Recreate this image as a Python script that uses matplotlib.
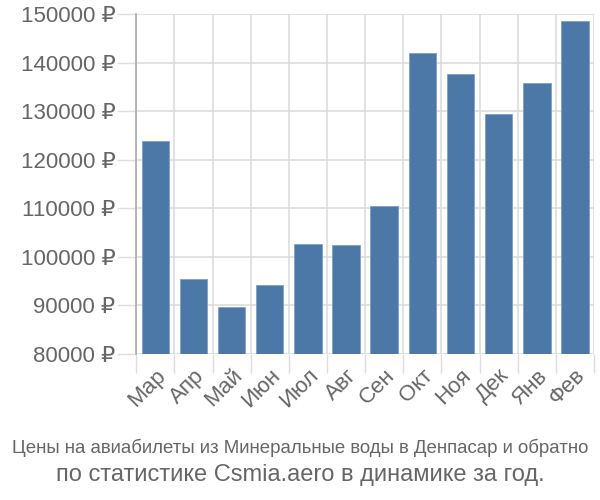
import matplotlib
matplotlib.use("Agg")
import matplotlib.pyplot as plt
import numpy as np

matplotlib.rcParams["font.family"] = ["Liberation Sans", "DejaVu Sans"]

months = ["Мар", "Апр", "Май", "Июн", "Июл", "Авг",
          "Сен", "Окт", "Ноя", "Дек", "Янв", "Фев"]
prices = [123900, 95500, 89700, 94200, 102700, 102500,
          110500, 141900, 137700, 129400, 135800, 148500]
y_ticks = [80000, 90000, 100000, 110000, 120000, 130000, 140000, 150000]

BAR_COLOR = "#4c78a8"
GRID = "#dddddd"
TEXT = "#666666"

fig = plt.figure(figsize=(6, 5), dpi=100)
ax = fig.add_axes([0.227, 0.292, 0.763, 0.68])

x = np.arange(len(months))
ax.bar(x, np.array(prices) - 80000, bottom=80000, width=0.72,
       color=BAR_COLOR, edgecolor="#7f9fc4", linewidth=0.6, zorder=3)

ax.set_xlim(-0.5, len(months) - 0.5)
ax.set_ylim(80000, 150000)

# y axis
ax.set_yticks(y_ticks)
ax.set_yticklabels([f"{v} ₽" for v in y_ticks], fontsize=16, color=TEXT)
ax.tick_params(axis="y", length=14, width=1, color=GRID, pad=1)
ax.yaxis.grid(True, color=GRID, linewidth=1.2, zorder=0)

# x axis: labels at bar centres, grid/ticks at category boundaries
ax.set_xticks(x)
ax.set_xticklabels(months, fontsize=16, color=TEXT, rotation=45,
                   ha="right", rotation_mode="anchor")
ax.tick_params(axis="x", which="major", length=0, pad=8)
ax.set_xticks(np.arange(-0.5, len(months)), minor=True)
ax.tick_params(axis="x", which="minor", length=14, width=1, color=GRID)
ax.xaxis.grid(True, which="minor", color=GRID, linewidth=1.2, zorder=0)
ax.xaxis.grid(False, which="major")

for side in ("top", "right", "bottom"):
    ax.spines[side].set_visible(False)
ax.spines["left"].set_color("#aaaaaa")
ax.spines["left"].set_linewidth(1.2)

fig.text(0.5, 0.104, "Цены на авиабилеты из Минеральные воды в Денпасар и обратно",
         ha="center", va="center", fontsize=13.4, color=TEXT)
fig.text(0.5, 0.05, "по статистике Csmia.aero в динамике за год.",
         ha="center", va="center", fontsize=17, color=TEXT)

fig.savefig("out.png", dpi=100)
